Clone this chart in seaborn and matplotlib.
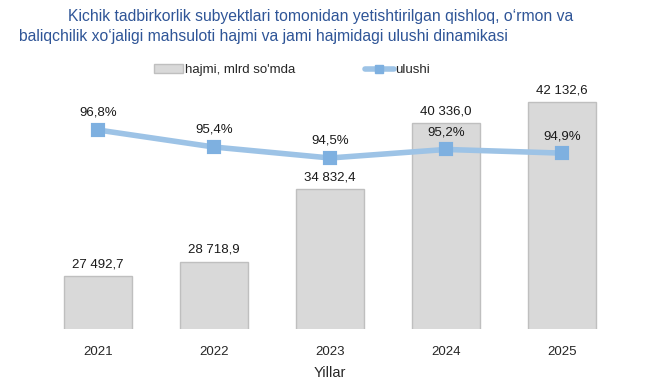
import numpy as np
import pandas as pd
import seaborn as sns
import matplotlib.pyplot as plt
from matplotlib.patches import Patch
from matplotlib.lines import Line2D

years = ["2021", "2022", "2023", "2024", "2025"]
volume = [27492.7, 28718.9, 34832.4, 40336.0, 42132.6]
share = [96.8, 95.4, 94.5, 95.2, 94.9]

title_1 = "Kichik tadbirkorlik subyektlari tomonidan yetishtirilgan qishloq, o‘rmon va"
title_2 = "baliqchilik xo‘jaligi mahsuloti hajmi va jami hajmidagi ulushi dinamikasi"

df = pd.DataFrame({"year": years, "volume": volume, "share": share})

sns.set_style("white")
plt.rcParams["font.family"] = ["Liberation Sans", "DejaVu Sans"]

bar_col = "#d9d9d9"
bar_edge = "#bfbfbf"
line_col = "#9dc3e6"
mark_col = "#7eb0e0"

fig = plt.figure(figsize=(6.5, 3.87), dpi=100)
ax = fig.add_axes([40 / 650, 58 / 387, 580 / 650, 269 / 387])

sns.barplot(data=df, x="year", y="volume", color=bar_col, edgecolor=bar_edge,
            linewidth=1, width=0.59, saturation=1, ax=ax)
ax.set_ylim(23047, 45669)
labels = [f"{v:,.1f}".replace(",", " ").replace(".", ",") for v in volume]
ax.bar_label(ax.containers[0], labels=labels, padding=4, fontsize=9.5, color="#1a1a1a")

ax2 = ax.twinx()
sns.pointplot(data=df, x="year", y="share", color=line_col, markers="s",
              linestyles="-", ax=ax2, linewidth=4, markersize=6.5,
              markerfacecolor=mark_col, markeredgecolor=mark_col)
ax2.set_ylim(80.45, 102.55)
for i, p in enumerate(share):
    ax2.annotate(f"{p:.1f}%".replace(".", ","), (i, p), xytext=(0, 8),
                 textcoords="offset points", ha="center", va="bottom",
                 fontsize=9.5, color="#1a1a1a")

for a in (ax, ax2):
    for s in a.spines.values():
        s.set_visible(False)
    a.set_yticks([])
    a.set_ylabel("")
ax.tick_params(axis="x", length=0, labelsize=9.5, pad=12)
ax.set_xlabel("Yillar", fontsize=10.5, labelpad=6)
ax.set_xlim(-0.5, 4.5)

fig.text(68 / 650, 1 - 17 / 387, title_1, fontsize=11.3, color="#2f5597", va="center", ha="left")
fig.text(19 / 650, 1 - 36 / 387, title_2, fontsize=11.3, color="#2f5597", va="center", ha="left")

handles = [
    Patch(facecolor=bar_col, edgecolor=bar_edge),
    Line2D([0], [0], color=line_col, lw=4, marker="s", markersize=6,
           markerfacecolor=mark_col, markeredgecolor=mark_col),
]
fig.legend(handles, ["hajmi, mlrd so'mda", "ulushi"], loc="center",
           bbox_to_anchor=(292 / 650, 1 - 70 / 387), ncol=2, frameon=False,
           fontsize=9.5, handlelength=2.2, handleheight=0.6, handletextpad=0.1,
           columnspacing=5.3)

fig.savefig("out.png", dpi=100)
